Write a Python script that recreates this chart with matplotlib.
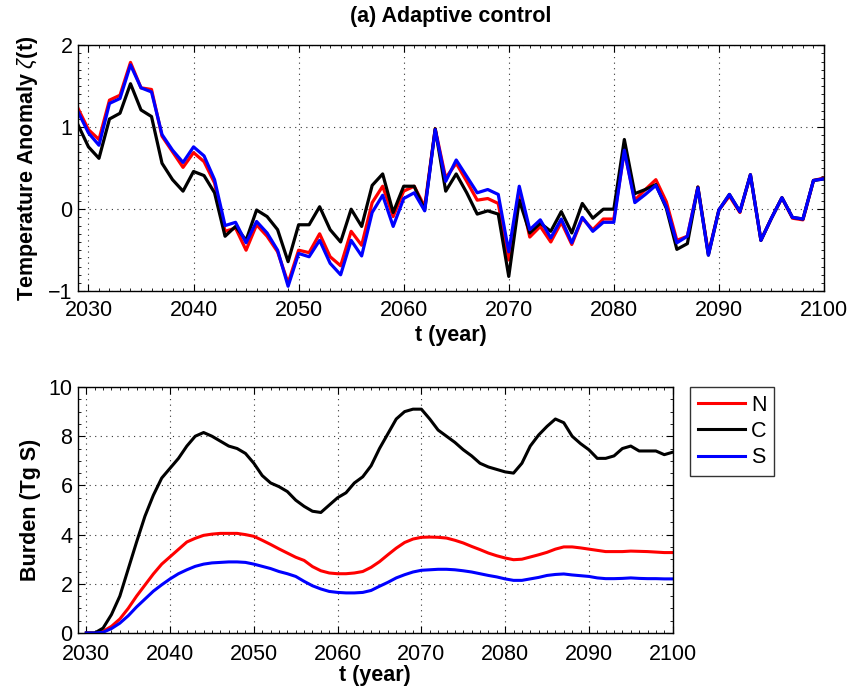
import numpy as np
import matplotlib.pyplot as plt
from matplotlib.ticker import MultipleLocator

plt.rcParams['font.family'] = ['Liberation Sans', 'DejaVu Sans']
plt.rcParams['mathtext.fontset'] = 'custom'
plt.rcParams['mathtext.rm'] = 'Liberation Sans'
plt.rcParams['mathtext.it'] = 'Liberation Sans:italic'

# (a) temperature anomaly, one value per year from 2029
years_t = np.arange(2029, 2101)
temp_N = [1.23, 0.97, 0.85, 1.33, 1.39, 1.79, 1.48, 1.46, 0.89, 0.70,
          0.51, 0.69, 0.58, 0.32, -0.27, -0.23, -0.50, -0.19, -0.33, -0.52,
          -0.90, -0.50, -0.53, -0.30, -0.58, -0.69, -0.27, -0.44, 0.08, 0.28,
          -0.09, 0.22, 0.28, 0.03, 0.98, 0.38, 0.56, 0.34, 0.11, 0.13,
          0.07, -0.62, 0.24, -0.34, -0.21, -0.40, -0.16, -0.43, -0.11, -0.25,
          -0.12, -0.12, 0.71, 0.11, 0.24, 0.36, 0.09, -0.38, -0.33, 0.27,
          -0.54, -0.01, 0.16, -0.04, 0.42, -0.38, -0.11, 0.14, -0.11, -0.13,
          0.35, 0.38]
temp_C = [1.03, 0.76, 0.62, 1.10, 1.17, 1.53, 1.21, 1.13, 0.56, 0.36,
          0.22, 0.46, 0.41, 0.20, -0.33, -0.21, -0.38, -0.01, -0.09, -0.25,
          -0.64, -0.19, -0.19, 0.03, -0.25, -0.40, 0.00, -0.21, 0.29, 0.43,
          -0.04, 0.28, 0.28, -0.01, 0.98, 0.22, 0.43, 0.20, -0.06, -0.02,
          -0.06, -0.82, 0.11, -0.29, -0.17, -0.27, -0.03, -0.29, 0.07, -0.11,
          0.00, 0.00, 0.85, 0.19, 0.24, 0.30, 0.01, -0.49, -0.42, 0.27,
          -0.56, -0.01, 0.18, -0.03, 0.42, -0.38, -0.11, 0.14, -0.10, -0.12,
          0.35, 0.37]
temp_S = [1.19, 0.93, 0.78, 1.29, 1.35, 1.76, 1.48, 1.43, 0.91, 0.72,
          0.57, 0.76, 0.65, 0.36, -0.20, -0.16, -0.41, -0.15, -0.29, -0.50,
          -0.94, -0.54, -0.58, -0.38, -0.66, -0.80, -0.38, -0.57, -0.04, 0.17,
          -0.21, 0.13, 0.20, -0.02, 0.97, 0.34, 0.60, 0.40, 0.20, 0.24,
          0.18, -0.52, 0.28, -0.25, -0.13, -0.35, -0.12, -0.41, -0.10, -0.27,
          -0.16, -0.16, 0.72, 0.08, 0.18, 0.29, 0.03, -0.41, -0.33, 0.26,
          -0.56, -0.01, 0.18, -0.03, 0.42, -0.38, -0.11, 0.14, -0.10, -0.12,
          0.35, 0.37]

# (b) sulfate burden, one value per year from 2030
years_b = np.arange(2030, 2101)
burden_N = [0.0, 0.0, 0.07, 0.27, 0.57, 1.0, 1.5, 1.95, 2.4, 2.8,
            3.1, 3.4, 3.7, 3.85, 3.97, 4.02, 4.05, 4.05, 4.05, 4.0,
            3.93, 3.77, 3.6, 3.42, 3.25, 3.08, 2.95, 2.7, 2.53, 2.44,
            2.41, 2.41, 2.44, 2.5, 2.67, 2.9, 3.18, 3.45, 3.68, 3.82,
            3.89, 3.9, 3.89, 3.86, 3.77, 3.66, 3.52, 3.39, 3.25, 3.14,
            3.05, 2.98, 3.0, 3.09, 3.18, 3.28, 3.41, 3.5, 3.5, 3.46,
            3.41, 3.36, 3.31, 3.31, 3.31, 3.33, 3.32, 3.31, 3.29, 3.27,
            3.27]
burden_C = [0.0, 0.0, 0.2, 0.75, 1.5, 2.6, 3.7, 4.75, 5.6, 6.3,
            6.7, 7.1, 7.6, 8.0, 8.15, 8.0, 7.8, 7.6, 7.5, 7.3,
            6.9, 6.4, 6.1, 5.95, 5.75, 5.4, 5.15, 4.95, 4.9, 5.2,
            5.5, 5.7, 6.1, 6.35, 6.8, 7.5, 8.1, 8.7, 9.0, 9.1,
            9.1, 8.7, 8.25, 8.0, 7.75, 7.45, 7.2, 6.9, 6.75, 6.65,
            6.55, 6.5, 6.9, 7.6, 8.05, 8.4, 8.7, 8.55, 8.0, 7.7,
            7.45, 7.1, 7.1, 7.2, 7.5, 7.6, 7.4, 7.4, 7.4, 7.25,
            7.35]
burden_S = [0.0, 0.0, 0.03, 0.18, 0.4, 0.7, 1.06, 1.38, 1.7, 1.96,
            2.2, 2.41, 2.57, 2.71, 2.8, 2.85, 2.87, 2.89, 2.89, 2.87,
            2.8, 2.71, 2.62, 2.5, 2.41, 2.3, 2.1, 1.92, 1.79, 1.69,
            1.65, 1.63, 1.63, 1.65, 1.73, 1.9, 2.06, 2.24, 2.37, 2.48,
            2.55, 2.57, 2.59, 2.59, 2.57, 2.53, 2.48, 2.41, 2.34, 2.28,
            2.2, 2.14, 2.14, 2.2, 2.26, 2.34, 2.38, 2.4, 2.36, 2.33,
            2.3, 2.24, 2.21, 2.21, 2.22, 2.24, 2.22, 2.21, 2.21, 2.2,
            2.2]

FS = 15.5


def style_axes(ax, ymin, ymax, ystep, yminor, xpad):
    ax.set_xlim(2029, 2100)
    ax.set_ylim(ymin, ymax)
    ax.xaxis.set_major_locator(MultipleLocator(10))
    ax.xaxis.set_minor_locator(MultipleLocator(1))
    ax.yaxis.set_major_locator(MultipleLocator(ystep))
    ax.yaxis.set_minor_locator(MultipleLocator(yminor))
    ax.tick_params(which='both', direction='in', top=True, right=True,
                   labelsize=FS)
    ax.tick_params(axis='x', pad=xpad)
    ax.tick_params(axis='y', pad=4)
    ax.tick_params(which='major', length=5, width=0.8)
    ax.tick_params(which='minor', length=2.5, width=0.6)
    ax.grid(True, which='major', linestyle=(0, (1, 4)), color='0.2', linewidth=0.8)
    for s in ax.spines.values():
        s.set_linewidth(1.0)


fig = plt.figure(figsize=(8.52, 6.90), dpi=100)

ax1 = fig.add_axes([0.0915, 0.578, 0.8756, 0.3565])
ax1.plot(years_t, temp_N, color='red', lw=2.3)
ax1.plot(years_t, temp_C, color='black', lw=2.3)
ax1.plot(years_t, temp_S, color='blue', lw=2.3)
style_axes(ax1, -1, 2, 1, 0.1, 6)
ax1.set_title('(a) Adaptive control', fontsize=FS, fontweight='bold', pad=17)
ax1.set_xlabel('t (year)', fontsize=FS, fontweight='bold', labelpad=3)
ax1.set_ylabel(r'Temperature Anomaly $\zeta$(t)', fontsize=FS,
               fontweight='bold', labelpad=6)

ax2 = fig.add_axes([0.0915, 0.0826, 0.698, 0.3565])
l1, = ax2.plot(years_b, burden_N, color='red', lw=2.2, label='N')
l2, = ax2.plot(years_b, burden_C, color='black', lw=2.2, label='C')
l3, = ax2.plot(years_b, burden_S, color='blue', lw=2.2, label='S')
style_axes(ax2, 0, 10, 2, 0.5, 8)
ax2.set_xlabel('t (year)', fontsize=FS, fontweight='bold', labelpad=0)
ax2.set_ylabel('Burden (Tg S)', fontsize=FS, fontweight='bold', labelpad=5)

leg = fig.legend(handles=[l1, l2, l3], loc='upper left',
                 bbox_to_anchor=(690 / 852, 1 - 387 / 690),
                 fontsize=FS, frameon=True, fancybox=False, edgecolor='black',
                 handlelength=2.2, handletextpad=0.3, borderpad=0.35,
                 labelspacing=0.25, borderaxespad=0)
leg.get_frame().set_linewidth(1.0)

fig.savefig('out.png', dpi=100)
